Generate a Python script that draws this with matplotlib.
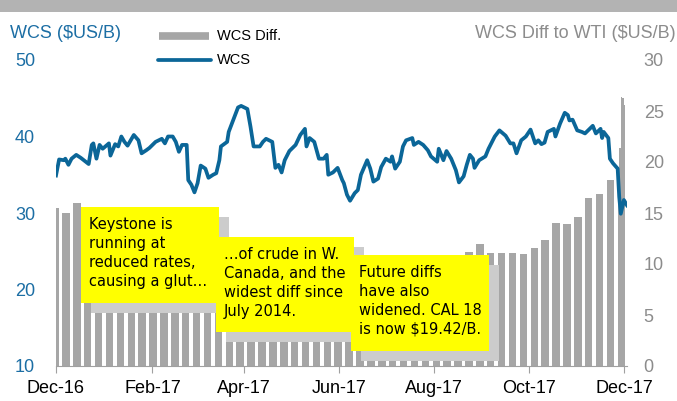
import matplotlib
matplotlib.use('Agg')
import matplotlib.pyplot as plt
from matplotlib.patches import Rectangle
from matplotlib.lines import Line2D
import pandas as pd

plt.rcParams['font.family'] = ['Liberation Sans', 'DejaVu Sans']

W, H = 677, 401  # figure size in pixels

# --- data ---
# WCS price, $US/B, day offsets from 2016-12-01
wcs_day = [0, 2, 5, 6, 8, 10, 13, 16, 21, 23, 24, 26, 28, 30, 34, 35, 38, 40, 42, 44,
           46, 50, 53, 55, 58, 60, 64, 68, 70, 72, 75, 77, 79, 81, 84, 85, 87, 89, 91, 93,
           96, 98, 101, 103, 105, 106, 110, 111, 114, 117, 119, 123, 125, 126, 127, 131, 133, 135, 139, 141,
           143, 145, 147, 150, 154, 157, 160, 161, 163, 166, 169, 172, 174, 175, 178, 181, 184, 185, 187, 189,
           192, 194, 196, 200, 202, 204, 207, 209, 212, 215, 216, 218, 221, 223, 225, 229, 230, 233, 236, 239,
           241, 245, 246, 249, 251, 254, 257, 259, 262, 264, 266, 268, 269, 272, 276, 278, 282, 285, 289, 292,
           294, 296, 299, 302, 305, 308, 310, 312, 314, 316, 320, 321, 324, 327, 329, 330, 332, 335, 338, 340,
           342, 345, 347, 350, 351, 352, 355, 356, 358, 361, 362, 363, 365, 367]
wcs_val = [34.9, 37.0, 36.9, 37.1, 36.3, 37.1, 37.6, 37.2, 36.4, 38.9, 39.1, 37.1, 38.9, 38.4, 39.1, 37.5, 39.0, 38.7, 40.0, 39.3,
           38.8, 40.2, 39.5, 37.8, 38.2, 38.5, 39.3, 39.7, 39.1, 40.0, 40.0, 39.3, 38.0, 38.9, 38.9, 34.3, 33.7, 32.7, 33.9, 36.2,
           35.8, 34.6, 35.0, 35.2, 36.9, 38.7, 39.3, 40.6, 42.2, 43.8, 44.0, 43.6, 41.3, 40.0, 38.7, 38.7, 39.3, 39.7, 39.3, 35.9,
           36.3, 35.3, 36.9, 38.1, 38.9, 40.2, 41.0, 38.7, 39.8, 39.3, 37.1, 37.1, 37.6, 35.0, 35.3, 35.9, 34.3, 33.9, 32.4, 31.6,
           32.6, 33.0, 35.0, 36.9, 35.8, 34.1, 34.5, 36.0, 37.1, 36.7, 37.4, 35.8, 36.7, 38.7, 39.5, 39.8, 38.9, 39.3, 38.9, 38.2,
           37.4, 36.7, 38.4, 36.9, 38.1, 37.1, 35.6, 34.0, 34.8, 36.3, 37.6, 37.1, 35.9, 36.9, 37.4, 38.4, 40.0, 40.8, 40.1, 39.1,
           39.1, 37.8, 39.5, 40.0, 40.9, 39.1, 39.5, 39.0, 39.2, 40.6, 41.0, 40.0, 41.7, 43.1, 42.8, 42.1, 42.2, 40.8, 40.6, 40.4,
           40.8, 41.4, 40.4, 41.0, 39.8, 40.6, 39.8, 37.1, 36.5, 35.8, 32.1, 29.9, 31.7, 31.0]

# WCS diff to WTI, $US/B, one value per trading week (weeks starting Monday)
week_first = '2016-11-28'
diff_week = [15.5, 15.0, 16.0, 14.8, 14.5, 14.6, 14.2, 14.0, 13.8, 14.1, 14.3, 14.5, 14.6,
             14.8, 14.3, 13.5, 12.4, 12.2, 12.0, 12.3, 12.5, 12.1, 11.6, 11.2, 10.8, 10.5,
             10.4, 10.6, 10.3, 10.2, 10.0, 10.4, 10.5, 10.6, 10.4, 10.3, 10.5, 10.7, 11.2,
             12.0, 11.1, 11.1, 11.1, 11.0, 11.6, 12.4, 14.0, 13.9, 14.6, 16.5, 16.9, 18.2]
# last week, day by day
diff_last_day = ['2017-11-27', '2017-11-28', '2017-11-29', '2017-11-30', '2017-12-01']
diff_last = [19.5, 21.4, 26.4, 26.3, 25.6]

tick_dates = ['2016-12-01', '2017-02-01', '2017-04-01', '2017-06-01',
              '2017-08-01', '2017-10-01', '2017-12-01']
tick_labels = ['Dec-16', 'Feb-17', 'Apr-17', 'Jun-17', 'Aug-17', 'Oct-17', 'Dec-17']

notes = ["Keystone is\nrunning at\nreduced rates,\ncausing a glut\u2026",
         "\u2026of crude in W.\nCanada, and the\nwidest diff since\nJuly 2014.",
         "Future diffs\nhave also\nwidened. CAL 18\nis now \\$19.42/B."]
# yellow box corners in pixels (x0, y0, x1, y1)
note_boxes = [(81, 207, 219, 303), (216, 237, 354, 332), (351, 255, 489, 351)]

blue = '#0B6698'
blue_txt = '#1C6EA4'
gray_txt = '#8C8C8C'
bar_gray = '#A6A6A6'


def fx(x):
    return x / W


def fy(y):
    return 1 - y / H


fig = plt.figure(figsize=(W / 100, H / 100), dpi=100)

# top grey band
fig.add_artist(Rectangle((0, fy(12)), 1, 12 / H, transform=fig.transFigure,
                         facecolor='#B3B3B3', edgecolor='none'))

ax = fig.add_axes([fx(56), fy(366), (627 - 56) / W, (366 - 60) / H])
week_dates = pd.date_range(week_first, periods=len(diff_week), freq='7D')
ax.bar(week_dates, diff_week, width=4.8, align='edge', color=bar_gray, linewidth=0)
ax.bar(pd.to_datetime(diff_last_day), diff_last, width=1.0, align='edge',
       color=bar_gray, linewidth=0)
ax.set_xlim(pd.Timestamp('2016-12-01'), pd.Timestamp('2017-12-03'))
ax.set_xticks(pd.to_datetime(tick_dates))
ax.set_xticklabels(tick_labels)
ax.tick_params(axis='x', length=5, color='#A0A0A0', pad=5, labelsize=13)
for s in ['top', 'left', 'right']:
    ax.spines[s].set_visible(False)
ax.spines['bottom'].set_color('#A0A0A0')

axl = ax.twinx()
dates = pd.Timestamp('2016-12-01') + pd.to_timedelta(wcs_day, unit='D')
axl.plot(dates, wcs_val, color=blue, lw=2.7, solid_joinstyle='round')
axl.set_ylim(10, 50)
axl.set_yticks(range(10, 51, 10))
axl.yaxis.tick_left()
axl.tick_params(axis='y', length=0, pad=15, labelsize=13, labelcolor=blue_txt)
for s in axl.spines.values():
    s.set_visible(False)

# diff axis on the right (after twinx, which moves it)
ax.set_ylim(0, 30)
ax.set_yticks(range(0, 31, 5))
ax.yaxis.tick_right()
ax.tick_params(axis='y', length=0, pad=12, labelsize=13, labelcolor=gray_txt)

# axis titles
fig.text(fx(10), fy(33), 'WCS (\\$US/B)', color=blue_txt, fontsize=13, va='center', ha='left')
fig.text(fx(676), fy(33), 'WCS Diff to WTI (\\$US/B)', color=gray_txt, fontsize=13,
         va='center', ha='right')

# legend by hand
fig.add_artist(Line2D([fx(159), fx(209)], [fy(36), fy(36)], transform=fig.transFigure,
                      color=bar_gray, lw=5.5, solid_capstyle='butt'))
fig.add_artist(Line2D([fx(158), fx(211)], [fy(60), fy(60)], transform=fig.transFigure,
                      color=blue, lw=2.7, solid_capstyle='round'))
fig.text(fx(217), fy(36), 'WCS Diff.', fontsize=10.5, va='center', ha='left')
fig.text(fx(217), fy(60), 'WCS', fontsize=10.5, va='center', ha='left')

# note boxes with drop shadows
for (x0, y0, x1, y1), txt in zip(note_boxes, notes):
    fig.add_artist(Rectangle((fx(x0 + 10), fy(y1 + 10)), (x1 - x0) / W, (y1 - y0) / H,
                             transform=fig.transFigure, facecolor='#CCCCCC',
                             edgecolor='none', zorder=5))
    fig.add_artist(Rectangle((fx(x0), fy(y1)), (x1 - x0) / W, (y1 - y0) / H,
                             transform=fig.transFigure, facecolor='#FFFF00',
                             edgecolor='none', zorder=5))
    fig.text(fx(x0 + 8), fy(y0 + 10), txt, fontsize=10.5, family='DejaVu Sans',
             va='top', ha='left', linespacing=1.32, zorder=6)

fig.savefig('out.png', dpi=100)
